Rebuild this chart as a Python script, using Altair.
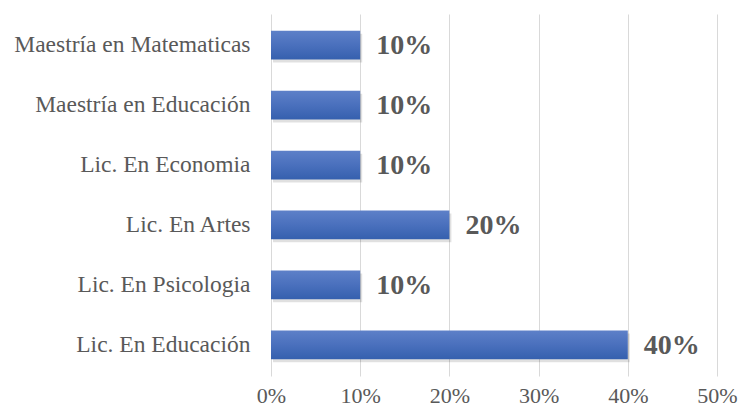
import altair as alt
import pandas as pd

categories = ["Maestría en Matematicas", "Maestría en Educación", "Lic. En Economia\u00a0",
              "Lic. En Artes", "Lic. En Psicologia\u00a0", "Lic. En Educación"]
values = [0.10, 0.10, 0.10, 0.20, 0.10, 0.40]
labels = ["10%", "10%", "10%", "20%", "10%", "40%"]

df = pd.DataFrame({"cat": categories, "val": values, "lab": labels})

FONT = "Liberation Serif, Times New Roman, serif"

yenc = alt.Y("cat:N", sort=categories, title=None,
             scale=alt.Scale(paddingInner=0.52, paddingOuter=0.28),
             axis=alt.Axis(domain=False, ticks=False, grid=False, labelFont=FONT,
                           labelFontSize=23.5, labelColor="#595959", labelPadding=21,
                           labelLimit=300))
xenc = alt.X("val:Q", title=None,
             scale=alt.Scale(domain=[0, 0.5], nice=False),
             axis=alt.Axis(format=".0%", values=[0, 0.1, 0.2, 0.3, 0.4, 0.5],
                           domain=False, ticks=False, grid=True, gridColor="#d9d9d9",
                           gridWidth=1, labelFont=FONT, labelFontSize=22, labelFlush=False,
                           labelColor="#595959", labelPadding=26, labelBaseline="alphabetic"))

base = alt.Chart(df)

shadow = base.mark_bar(color="#000000", opacity=0.12, yOffset=3, xOffset=2).encode(x=xenc, y=yenc)

bars = base.mark_bar(
    color=alt.Gradient(gradient="linear", x1=0, x2=0, y1=0, y2=1,
                       stops=[alt.GradientStop(color="#5d80c8", offset=0),
                              alt.GradientStop(color="#4a70bd", offset=0.5),
                              alt.GradientStop(color="#3560ae", offset=1)])
).encode(x=xenc, y=yenc)

text = base.mark_text(align="left", baseline="middle", dx=16, dy=1,
                      font=FONT, fontSize=28, fontWeight="bold",
                      color="#595959").encode(x=xenc, y=yenc, text="lab:N")

chart = alt.layer(shadow, bars, text).properties(
    width=446, height=362,
    padding={"left": 263, "top": 6, "right": 22, "bottom": 30},
    autosize=alt.AutoSizeParams(type="none"),
).configure_view(stroke="transparent", strokeWidth=0)

chart.save("out.html", embed_options={"renderer": "svg", "actions": False})
